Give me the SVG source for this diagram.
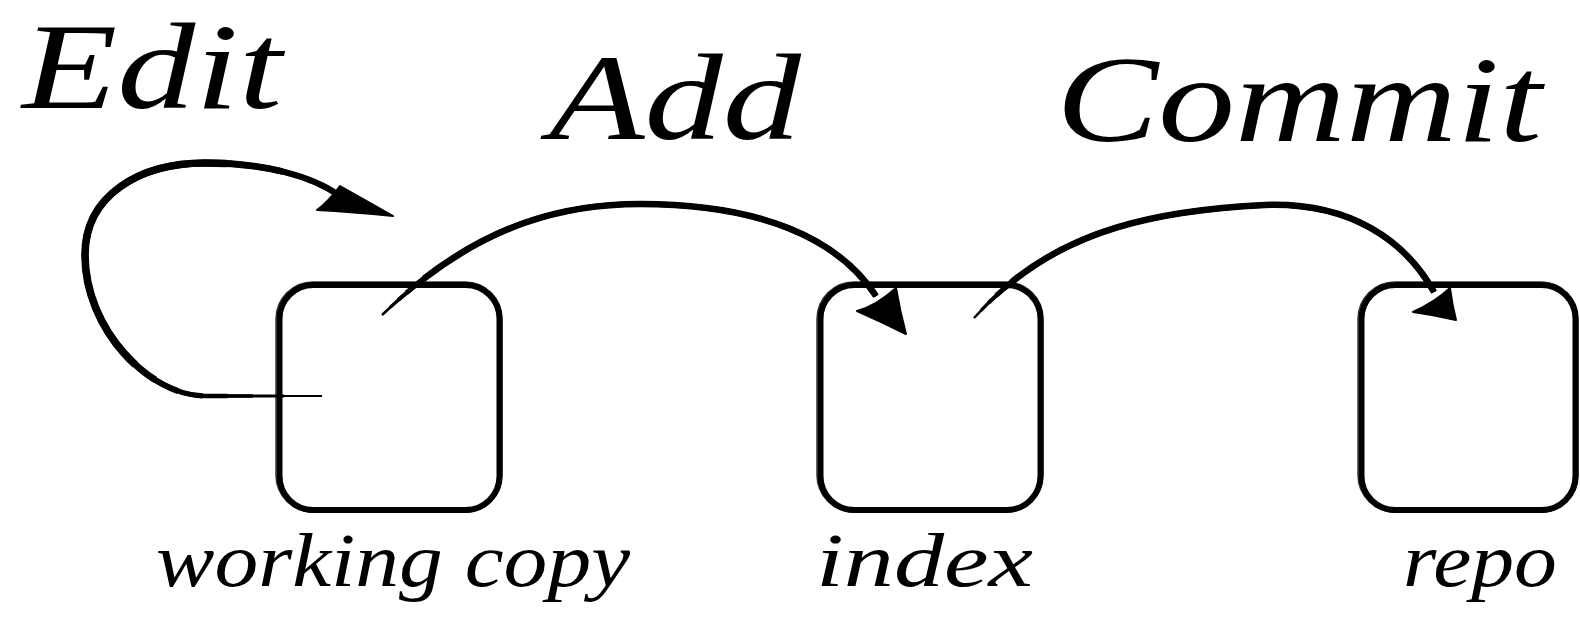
<svg xmlns="http://www.w3.org/2000/svg" width="1580" height="619" viewBox="0 0 1580 619">
<style>
.title{font-family:"Liberation Serif","DejaVu Serif",serif;font-style:italic;font-size:122px;fill:#000}
.label{font-family:"Liberation Serif","DejaVu Serif",serif;font-style:italic;font-size:76px;fill:#000}
.box{fill:none;stroke:#000;stroke-width:6}
.box2{fill:none;stroke:#000;stroke-width:1.5;opacity:0.8}
.wire{fill:none;stroke:#000;stroke-linecap:butt}
.head{fill:#000;stroke:#000;stroke-width:2;stroke-linejoin:round}
</style>
<rect width="1580" height="619" fill="#fff"/>
<g id="title-edit"><text class="title" x="22" y="108" font-size="118" textLength="260" lengthAdjust="spacingAndGlyphs">Edit</text></g>
<g id="title-add"><text class="title" x="549" y="139" textLength="252" lengthAdjust="spacingAndGlyphs">Add</text></g>
<g id="title-commit"><text class="title" x="1056" y="141" textLength="486" lengthAdjust="spacingAndGlyphs">Commit</text></g>
<g id="working-copy">
<rect class="box" x="279.5" y="285" width="220" height="225" rx="34"/>
<rect class="box2" x="276" y="282" width="226" height="230" rx="37"/>
<text class="label" x="156" y="586" textLength="474" lengthAdjust="spacingAndGlyphs">working copy</text>
</g>
<g id="index">
<rect class="box" x="820.5" y="285" width="220" height="225" rx="34"/>
<rect class="box2" x="817" y="282" width="226" height="230" rx="37"/>
<text class="label" x="816" y="586" textLength="217" lengthAdjust="spacingAndGlyphs">index</text>
</g>
<g id="repo">
<rect class="box" x="1361.5" y="285" width="214" height="225" rx="34"/>
<rect class="box2" x="1358" y="282" width="220" height="230" rx="37"/>
<text class="label" x="1403" y="586" textLength="154" lengthAdjust="spacingAndGlyphs">repo</text>
</g>
<g id="connectors">
<g id="edit-loop">
<path class="wire" stroke-width="2" stroke-linecap="round" d="M 322 396 L 205 396 C 177.5 396 147.5 379.5 124.4 353.6 C 101.25 327.75 85 292.5 85 255 C 85 195 140 163 205 163 C 265 163 312 176 340 196"/>
<path class="wire" stroke-width="2.8" pathLength="100" stroke-dasharray="0 6 100 0" d="M 322 396 L 205 396 C 177.5 396 147.5 379.5 124.4 353.6 C 101.25 327.75 85 292.5 85 255 C 85 195 140 163 205 163 C 265 163 312 176 340 196"/>
<path class="wire" stroke-width="3.6" pathLength="100" stroke-dasharray="0 11 100 0" d="M 322 396 L 205 396 C 177.5 396 147.5 379.5 124.4 353.6 C 101.25 327.75 85 292.5 85 255 C 85 195 140 163 205 163 C 265 163 312 176 340 196"/>
<path class="wire" stroke-width="4.4" pathLength="100" stroke-dasharray="0 15 100 0" d="M 322 396 L 205 396 C 177.5 396 147.5 379.5 124.4 353.6 C 101.25 327.75 85 292.5 85 255 C 85 195 140 163 205 163 C 265 163 312 176 340 196"/>
<path class="wire" stroke-width="5.2" pathLength="100" stroke-dasharray="0 19 100 0" d="M 322 396 L 205 396 C 177.5 396 147.5 379.5 124.4 353.6 C 101.25 327.75 85 292.5 85 255 C 85 195 140 163 205 163 C 265 163 312 176 340 196"/>
<path class="wire" stroke-width="6" pathLength="100" stroke-dasharray="0 23 100 0" d="M 322 396 L 205 396 C 177.5 396 147.5 379.5 124.4 353.6 C 101.25 327.75 85 292.5 85 255 C 85 195 140 163 205 163 C 265 163 312 176 340 196"/>
<path class="wire" stroke-width="6.8" pathLength="100" stroke-dasharray="0 27 63 100" d="M 322 396 L 205 396 C 177.5 396 147.5 379.5 124.4 353.6 C 101.25 327.75 85 292.5 85 255 C 85 195 140 163 205 163 C 265 163 312 176 340 196"/>
<path class="wire" stroke-width="7.6" pathLength="100" stroke-dasharray="0 31 50 100" d="M 322 396 L 205 396 C 177.5 396 147.5 379.5 124.4 353.6 C 101.25 327.75 85 292.5 85 255 C 85 195 140 163 205 163 C 265 163 312 176 340 196"/>
<path class="head" d="M 340 186 Q 365 200 393 216 Q 352 212 317 210 Q 328 202 340 186 Z"/>
</g>
<g id="add-arrow">
<path class="wire" stroke-width="2.5" stroke-linecap="round" d="M 382 315 C 460 240 540 204 640 204 C 760 204 838 238 876 296"/>
<path class="wire" stroke-width="3.3" pathLength="100" stroke-dasharray="0 2 100 0" d="M 382 315 C 460 240 540 204 640 204 C 760 204 838 238 876 296"/>
<path class="wire" stroke-width="4.1" pathLength="100" stroke-dasharray="0 4 100 0" d="M 382 315 C 460 240 540 204 640 204 C 760 204 838 238 876 296"/>
<path class="wire" stroke-width="4.9" pathLength="100" stroke-dasharray="0 6 100 0" d="M 382 315 C 460 240 540 204 640 204 C 760 204 838 238 876 296"/>
<path class="wire" stroke-width="5.7" pathLength="100" stroke-dasharray="0 8 100 0" d="M 382 315 C 460 240 540 204 640 204 C 760 204 838 238 876 296"/>
<path class="wire" stroke-width="6.5" pathLength="100" stroke-dasharray="0 10 100 0" d="M 382 315 C 460 240 540 204 640 204 C 760 204 838 238 876 296"/>
<path class="head" d="M 896 288 Q 900 312 906 334 Q 882 322 857 311 Q 876 306 896 288 Z"/>
</g>
<g id="commit-arrow">
<path class="wire" stroke-width="2.5" stroke-linecap="round" d="M 974 318 C 1040 245 1120 212 1265 205 C 1350 202 1405 240 1434 292"/>
<path class="wire" stroke-width="3.3" pathLength="100" stroke-dasharray="0 2 100 0" d="M 974 318 C 1040 245 1120 212 1265 205 C 1350 202 1405 240 1434 292"/>
<path class="wire" stroke-width="4.1" pathLength="100" stroke-dasharray="0 4 100 0" d="M 974 318 C 1040 245 1120 212 1265 205 C 1350 202 1405 240 1434 292"/>
<path class="wire" stroke-width="4.9" pathLength="100" stroke-dasharray="0 6 100 0" d="M 974 318 C 1040 245 1120 212 1265 205 C 1350 202 1405 240 1434 292"/>
<path class="wire" stroke-width="5.7" pathLength="100" stroke-dasharray="0 8 100 0" d="M 974 318 C 1040 245 1120 212 1265 205 C 1350 202 1405 240 1434 292"/>
<path class="wire" stroke-width="6.5" pathLength="100" stroke-dasharray="0 10 100 0" d="M 974 318 C 1040 245 1120 212 1265 205 C 1350 202 1405 240 1434 292"/>
<path class="head" d="M 1450 288 Q 1452 304 1456 320 Q 1435 315 1413 312 Q 1435 302 1450 288 Z"/>
</g>
</g>
</svg>
